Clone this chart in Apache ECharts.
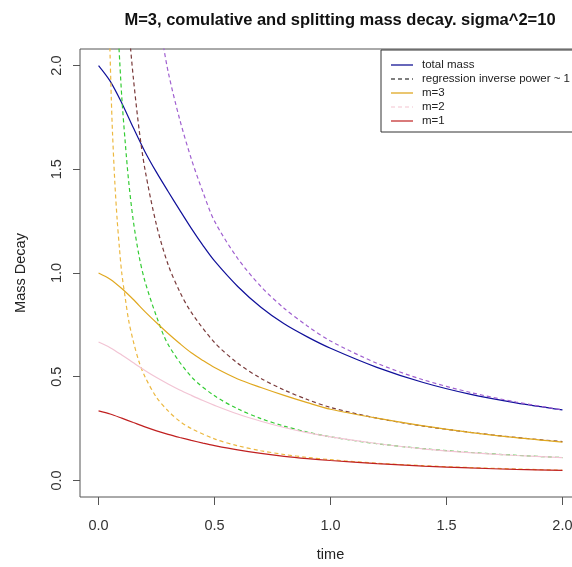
<!DOCTYPE html>
<html><head><meta charset="utf-8">
<script src="https://cdn.jsdelivr.net/npm/echarts@6/dist/echarts.min.js"></script>
<style>html,body{margin:0;padding:0;background:#fff}#c{width:572px;height:567px}</style>
</head><body><div id="c"></div>
<script>
// ---- data ----
const chartTitle = 'M=3, comulative and splitting mass decay. sigma^2=10';
const xTicks = [0, 0.5, 1, 1.5, 2];
const yTicks = [0, 0.5, 1, 1.5, 2];
const legendNames = ['total mass', 'regression inverse power ~ 1', 'm=3', 'm=2', 'm=1'];

const tSolid   = [0, 0.05, 0.1, 0.15, 0.2, 0.25, 0.3, 0.35, 0.4, 0.45, 0.5, 0.6, 0.7, 0.8, 0.9, 1.0, 1.2, 1.4, 1.6, 1.8, 2.0];
const totalMass= [2.0, 1.925, 1.82, 1.70, 1.585, 1.485, 1.393, 1.303, 1.215, 1.133, 1.058, 0.935, 0.835, 0.755, 0.692, 0.637, 0.545, 0.472, 0.416, 0.374, 0.34];
const massM3   = [1.0, 0.97, 0.925, 0.872, 0.814, 0.76, 0.708, 0.66, 0.615, 0.578, 0.544, 0.489, 0.448, 0.41, 0.375, 0.343, 0.3, 0.263, 0.232, 0.206, 0.185];
const massM2   = [0.667, 0.64, 0.605, 0.567, 0.53, 0.496, 0.465, 0.436, 0.41, 0.385, 0.362, 0.32, 0.285, 0.255, 0.23, 0.21, 0.178, 0.152, 0.134, 0.12, 0.11];
const massM1   = [0.335, 0.32, 0.30, 0.279, 0.258, 0.239, 0.222, 0.207, 0.193, 0.18, 0.168, 0.147, 0.13, 0.116, 0.105, 0.096, 0.081, 0.069, 0.06, 0.053, 0.048];

const tRegTotal = [0.27, 0.3, 0.35, 0.4, 0.45, 0.5, 0.6, 0.7, 0.8, 0.9, 1.0, 1.2, 1.4, 1.6, 1.8, 2.0];
const regTotal  = [2.16, 1.97, 1.74, 1.55, 1.39, 1.25, 1.07, 0.935, 0.83, 0.745, 0.672, 0.565, 0.485, 0.425, 0.378, 0.34];
const tRegM3 = [0.135, 0.15, 0.175, 0.2, 0.25, 0.3, 0.35, 0.4, 0.5, 0.6, 0.7, 0.8, 0.9, 1.0, 1.2, 1.4, 1.6, 1.8, 2.0];
const regM3  = [2.12, 1.94, 1.69, 1.5, 1.23, 1.04, 0.91, 0.81, 0.665, 0.565, 0.492, 0.436, 0.39, 0.352, 0.3, 0.262, 0.232, 0.207, 0.187];
const tRegM2 = [0.085, 0.1, 0.115, 0.13, 0.15, 0.175, 0.2, 0.25, 0.3, 0.4, 0.5, 0.6, 0.7, 0.8, 0.9, 1.0, 1.2, 1.4, 1.6, 1.8, 2.0];
const regM2  = [2.15, 1.85, 1.63, 1.44, 1.25, 1.08, 0.96, 0.79, 0.655, 0.5, 0.408, 0.345, 0.298, 0.262, 0.233, 0.21, 0.177, 0.153, 0.135, 0.121, 0.11];
const tRegM1 = [0.048, 0.055, 0.06, 0.07, 0.08, 0.09, 0.1, 0.115, 0.13, 0.15, 0.175, 0.2, 0.25, 0.3, 0.35, 0.4, 0.5, 0.6, 0.7, 0.8, 0.9, 1.0, 1.2, 1.4, 1.6, 1.8, 2.0];
const regM1  = [2.12, 1.84, 1.68, 1.44, 1.26, 1.12, 1.0, 0.88, 0.77, 0.67, 0.57, 0.5, 0.4, 0.335, 0.285, 0.25, 0.2, 0.167, 0.143, 0.125, 0.111, 0.1, 0.083, 0.071, 0.062, 0.055, 0.049];

// ---- build ----
const zip = (xs, ys) => xs.map((x, i) => [x, ys[i]]);
const FONT = 'Liberation Sans, Arial, sans-serif';
function lineSeries(name, xs, ys, color, dashed) {
  return {
    type: 'line', name, data: zip(xs, ys), showSymbol: false, smooth: 0.3,
    clip: true, silent: true,
    lineStyle: { color, width: 1.2, type: dashed ? [4, 3] : 'solid' }
  };
}

const legendRows = [
  { color: '#00008b', dash: false },
  { color: '#000000', dash: true },
  { color: '#e8c060', dash: false },
  { color: '#f4c4d0', dash: true },
  { color: '#c02020', dash: false }
];
const legendGraphics = [{
  type: 'rect', shape: { x: 381, y: 50, width: 200, height: 82 },
  style: { fill: '#fff', stroke: '#333', lineWidth: 1 }, z: 100
}];
legendNames.forEach((n, i) => {
  const y = 65 + i * 14;
  legendGraphics.push({
    type: 'line', shape: { x1: 391, y1: y, x2: 413, y2: y },
    style: { stroke: legendRows[i].color, lineWidth: legendRows[i].color === '#e8c060' ? 1.8 : 1.2,
             lineDash: legendRows[i].dash ? [4, 3] : null }, z: 101
  });
  legendGraphics.push({
    type: 'text', x: 422, y: y,
    style: { text: n, fill: '#222', font: '11.5px ' + FONT, textVerticalAlign: 'middle' }, z: 101
  });
});

const chart = echarts.init(document.getElementById('c'), null, { renderer: 'canvas' });
chart.setOption({
  animation: false,
  backgroundColor: '#fff',
  title: {
    text: chartTitle, left: 335, top: 7, textAlign: 'center',
    textStyle: { fontFamily: FONT, fontWeight: 'bold', fontSize: 16.5, color: '#111' }
  },
  grid: {
    left: 80, top: 49, right: -9, bottom: 70,
    containLabel: false, outerBoundsMode: 'none',
    show: true, borderColor: '#555', borderWidth: 1, backgroundColor: 'transparent'
  },
  xAxis: {
    type: 'value', min: -0.08, max: 2.08,
    name: 'time', nameLocation: 'middle', nameGap: 50,
    nameTextStyle: { fontFamily: FONT, fontSize: 14.5, color: '#222' },
    axisLine: { show: false, onZero: false },
    axisTick: { show: true, inside: false, length: 8, customValues: xTicks, lineStyle: { color: '#555' } },
    axisLabel: { customValues: xTicks, margin: 21, fontFamily: FONT, fontSize: 14.5, color: '#333',
                 formatter: v => v.toFixed(1) },
    splitLine: { show: false }
  },
  yAxis: {
    type: 'value', min: -0.08, max: 2.08,
    name: 'Mass Decay', nameLocation: 'middle', nameGap: 52,
    nameTextStyle: { fontFamily: FONT, fontSize: 14.5, color: '#222' },
    axisLine: { show: false, onZero: false },
    axisTick: { show: true, inside: false, length: 7, customValues: yTicks, lineStyle: { color: '#555' } },
    axisLabel: { customValues: yTicks, rotate: 90, margin: 16, fontFamily: FONT, fontSize: 14.5, color: '#333',
                 formatter: v => v.toFixed(1) },
    splitLine: { show: false }
  },
  series: [
    lineSeries('total mass', tSolid, totalMass, '#10109a', false),
    lineSeries('fit total', tRegTotal, regTotal, '#a060d0', true),
    lineSeries('fit m=3', tRegM3, regM3, '#7a3b3b', true),
    lineSeries('fit m=2', tRegM2, regM2, '#33cc33', true),
    lineSeries('fit m=1', tRegM1, regM1, '#ecb840', true),
    lineSeries('m=3', tSolid, massM3, '#e0a820', false),
    lineSeries('m=2', tSolid, massM2, '#f2c4d4', false),
    lineSeries('m=1', tSolid, massM1, '#c02020', false)
  ],
  graphic: legendGraphics
});
</script>
</body></html>
